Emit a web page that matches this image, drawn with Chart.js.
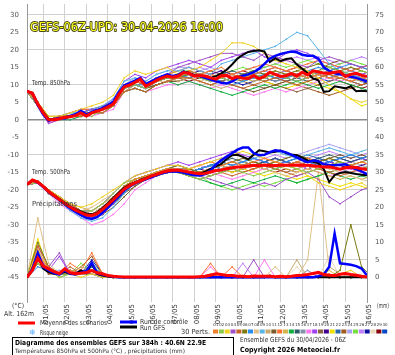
<!DOCTYPE html>
<html><head><meta charset="utf-8">
<script src="https://cdn.jsdelivr.net/npm/chart.js@4.4.0/dist/chart.umd.min.js"></script>
<style>html,body{margin:0;padding:0;background:#fff;overflow:hidden}canvas{display:block}</style>
</head><body>
<canvas id="c" width="395" height="355"></canvas>
<script>
// ---- time axes (hours since 30/04 06Z) ----
const HOURS_6H = [0,6,12,18,24,30,36,42,48,54,60,66,72,78,84,90,96,102,108,114,120,126,132,138,144,150,156,162,168,174,180,186,192,198,204,210,216,222,228,234,240,246,252,258,264,270,276,282,288,294,300,306,312,318,324,330,336,342,348,354,360,366,372,378];
const HOURS_12H = [0,12,24,36,48,60,72,84,96,108,120,132,144,156,168,180,192,204,216,228,240,252,264,276,288,300,312,324,336,348,360,372,384];
const DATE_HOURS = [18,42,66,90,114,138,162,186,210,234,258,282,306,330,354,378];
const DATE_LABELS = ['01/05','02/05','03/05','04/05','05/05','06/05','07/05','08/05','09/05','10/05','11/05','12/05','13/05','14/05','15/05','16/05'];
const LEFT_TICKS = [-45,-40,-35,-30,-25,-20,-15,-10,-5,0,5,10,15,20,25,30];
const RIGHT_TICKS = [0,5,10,15,20,25,30,35,40,45,50,55,60,65,70,75];
const PRECIP_BASE = -45;

// ---- mean / control / GFS (6-hourly) ----
const T850_MEAN = [8.2,7.6,4.5,2.0,0.0,0.0,0.3,0.7,0.9,1.2,2.0,1.1,2.0,2.5,3.0,3.7,4.5,7.2,9.4,9.9,10.7,11.6,9.6,10.4,11.3,12.0,12.5,12.2,12.5,13.5,13.3,12.5,12.7,12.5,12.0,11.6,12.6,12.7,11.8,12.3,11.9,11.8,12.6,11.8,12.4,13.6,13.0,12.4,12.6,13.2,12.5,13.6,12.8,14.0,13.7,13.3,13.3,13.6,13.8,12.4,13.0,13.3,12.7,12.4];
const T850_CTRL = [8.2,7.5,4.2,1.5,-0.3,0.2,0.5,0.4,1.1,1.6,2.6,1.5,2.3,2.8,3.4,4.2,5.2,7.8,9.8,10.5,11.2,12.0,10.2,11.0,11.8,12.4,13.0,12.5,12.8,13.8,13.2,12.6,12.5,12.0,11.5,11.0,10.6,10.4,11.0,12.0,12.6,13.0,13.6,14.6,16.0,17.5,18.3,18.8,19.2,19.5,19.3,18.6,18.3,18.3,17.5,15.0,14.0,13.3,13.0,12.7,12.3,12.0,11.5,11.0];
const T850_GFS = [8.2,7.7,4.6,2.3,0.3,0.0,0.2,0.8,1.0,1.4,2.2,1.0,2.1,2.6,3.0,3.9,4.8,7.5,9.5,10.0,11.0,11.8,9.8,10.6,11.5,12.3,12.8,12.3,12.9,13.8,13.5,12.8,12.5,12.2,12.0,12.5,13.3,14.3,15.8,17.5,18.6,19.4,19.7,19.9,19.5,16.5,17.6,16.8,17.4,17.6,15.8,14.6,13.3,11.8,11.3,8.0,8.2,9.6,9.3,9.0,9.6,8.2,8.3,8.2];
const T500_MEAN = [-18.5,-17.2,-17.8,-19.0,-20.5,-21.6,-22.8,-23.9,-24.9,-25.8,-26.5,-27.2,-27.3,-26.8,-25.6,-24.2,-22.8,-21.3,-19.8,-18.8,-18.0,-17.4,-16.8,-16.1,-15.6,-15.0,-14.6,-14.4,-14.4,-14.6,-14.9,-15.2,-15.4,-15.3,-14.9,-14.5,-14.3,-14.0,-13.7,-13.5,-13.4,-13.2,-13.0,-13.1,-12.9,-13.0,-13.1,-12.9,-13.0,-13.0,-12.9,-13.0,-13.0,-13.1,-13.3,-13.5,-13.4,-13.8,-14.1,-13.7,-13.5,-13.6,-14.0,-14.1];
const T500_CTRL = [-18.5,-17.3,-17.9,-19.2,-20.6,-21.8,-23.0,-24.2,-25.3,-26.3,-27.2,-28.0,-28.3,-27.8,-26.5,-25.0,-23.4,-21.8,-20.2,-19.0,-18.2,-17.6,-17.0,-16.4,-15.8,-15.3,-14.9,-14.7,-14.8,-15.1,-15.5,-15.8,-15.9,-15.5,-14.5,-12.8,-11.5,-10.5,-9.5,-8.5,-7.9,-7.9,-9.5,-10.1,-10.0,-9.2,-8.7,-8.9,-9.3,-10.0,-10.7,-11.5,-12.1,-11.6,-11.8,-12.7,-12.9,-13.0,-12.8,-12.7,-13.5,-14.1,-14.7,-15.5];
const T500_GFS = [-18.5,-17.2,-17.7,-18.9,-20.4,-21.5,-22.6,-23.7,-24.7,-25.5,-26.2,-26.8,-27.0,-26.5,-25.2,-23.8,-22.3,-20.8,-19.4,-18.5,-17.8,-17.2,-16.6,-16.0,-15.5,-15.0,-14.6,-14.4,-14.5,-14.7,-15.0,-15.3,-15.4,-14.8,-14.0,-13.3,-12.6,-11.2,-10.1,-10.0,-10.6,-11.3,-10.0,-8.7,-9.0,-9.3,-9.1,-8.8,-9.5,-9.9,-10.1,-10.8,-11.6,-12.0,-12.4,-14.1,-17.8,-15.8,-15.2,-14.9,-15.2,-15.5,-15.7,-15.8];
const PRCP_MEAN = [0,2.0,5.5,3.2,2.4,1.6,1.1,2.4,1.3,1.0,1.2,1.4,1.9,1.3,1.0,0.5,0.3,0.2,0.1,0.1,0.1,0.1,0.1,0.1,0.1,0.1,0.1,0.1,0.1,0.1,0.1,0.1,0.2,0.3,0.6,1.0,0.8,0.5,0.5,0.3,0.3,0.2,0.4,0.3,0.3,0.3,0.2,0.3,0.2,0.3,0.5,0.6,0.8,1.1,1.4,0.8,0.6,0.5,0.9,1.1,0.8,0.6,0.3,0.1];
const PRCP_CTRL = [0,2.5,7,3,2,1.2,0.8,2,1,0.8,1.3,1.8,4.2,1.2,0.8,0.4,0.2,0,0,0,0,0,0,0,0,0,0,0,0,0,0,0,0,0,0,0,0,0,0,0,0,0,0,0,0,0,0,0,0,0,0,0,0,0,0.3,0.8,3,12.5,4,3.8,3.6,3.2,2.5,0.5];
const PRCP_GFS = [0,2,6,2.5,1.5,1,1,1.5,1,1,2,1.2,3.9,1,0.5,0.2,0,0,0,0,0,0,0,0,0,0,0,0,0,0,0,0,0,0,0,0,0,0,0,0,0,0,0,0,0,0.5,0,0,0,0,0,0,0,0,0,0,0,0,0,0,0,0,0,0];

// ---- 30 perturbed members (12-hourly) ----
const MEMBER_COLORS = ['#f08030','#8cc850','#f0d020','#a050c8','#c86428','#7a7a10','#2a8cf0','#e0c088','#5ab4e6','#c8aa6e','#7a5a2a','#ff7030','#d2b450','#10b040','#2e5a6a','#8494a8','#ff78f0','#a040f0','#8a6440','#400090','#f0e000','#2868b0','#a05a20','#a8a0f0','#78e040','#c080ff','#1010a0','#e8d8b8','#880010','#0848c8'];
const T850_MEMBERS = [
[8,5,0,1,1,2,2,3,5,10,11,10,12,13,12,14,13,14,15,13,12,13,14,15,14,13,12,13,12,12,11,12,11],
[8,4,0,0,1,2,1,3,4,9,10,9,11,12,13,13,12,11,12,11,12,13,12,13,12,11,12,14,15,14,13,14,13],
[8,5,1,1,2,3,4,5,7,12,14,13,14,15,13,14,15,17,19,22,22,21,19,17,16,15,14,12,10,8,6,5,6],
[8,4,-1,0,1,2,3,3,5,10,11,10,12,13,15,16,17,18,19,19,18,17,19,18,17,16,15,17,18,17,16,15,16],
[8,4,0,0,1,1,2,2,4,8,9,8,10,11,12,12,11,10,11,10,9,10,11,12,11,10,11,12,13,12,11,10,11],
[8,5,0,1,1,2,2,3,4,9,11,10,11,12,12,13,12,12,13,12,13,14,13,14,13,14,15,16,15,14,15,14,13],
[8,4,0,0,1,2,3,3,5,9,10,9,11,12,13,12,13,12,11,10,11,12,13,12,12,13,14,15,14,15,16,15,14],
[8,5,1,1,1,2,2,3,4,9,10,9,11,11,12,12,11,12,13,12,13,12,13,14,13,12,13,14,13,12,11,12,13],
[8,4,0,1,2,2,3,4,6,11,12,11,13,14,14,15,14,13,16,17,18,19,20,21,23,25,24,20,16,14,13,12,11],
[8,5,0,0,1,1,2,2,4,8,10,9,11,12,11,12,11,10,9,10,11,12,11,12,13,14,13,12,13,14,15,14,13],
[8,4,0,1,1,2,2,3,4,9,10,9,10,11,11,12,13,12,11,10,9,8,9,10,11,12,13,14,16,17,16,15,14],
[8,5,1,1,2,3,3,4,5,10,11,10,12,13,14,15,14,13,12,13,14,15,16,15,14,15,16,17,16,15,14,15,16],
[8,4,0,0,1,2,2,3,4,9,11,10,12,13,12,13,12,11,12,13,12,11,12,13,12,13,12,13,14,13,12,11,12],
[8,4,0,0,0,1,2,2,4,8,9,8,10,11,10,11,10,9,8,7,8,9,10,9,10,11,10,9,10,11,10,9,8],
[8,5,0,1,1,2,3,3,5,10,11,10,11,12,13,14,13,12,13,14,13,12,11,12,13,12,11,12,13,12,11,12,13],
[8,4,0,0,1,2,2,3,4,9,10,9,11,12,12,13,12,13,12,11,12,13,12,11,12,13,14,13,12,13,14,13,12],
[8,4,-1,0,0,1,1,2,3,8,9,8,9,10,10,11,10,9,10,9,8,7,8,9,8,9,10,11,12,11,12,13,12],
[8,5,0,1,2,3,3,4,6,11,13,12,14,15,16,17,16,15,17,18,19,20,18,17,19,20,19,17,16,15,14,13,14],
[8,4,0,1,1,2,2,3,5,9,10,9,10,11,11,12,11,10,11,12,11,10,9,10,9,8,9,10,11,12,13,12,11],
[8,5,0,0,1,2,2,3,4,9,11,10,12,12,13,13,14,13,14,13,12,13,14,15,14,13,12,13,14,15,14,15,16],
[8,4,0,1,1,2,3,3,5,10,11,10,11,12,12,13,12,12,13,12,11,12,11,10,9,10,11,10,9,8,6,4,5],
[8,5,0,0,1,2,2,3,4,9,10,10,11,12,12,13,12,12,11,12,13,14,13,12,13,12,13,14,13,14,13,12,13],
[8,4,0,0,1,1,2,3,4,8,10,9,10,11,12,12,13,14,13,12,13,12,11,10,11,10,9,8,7,8,9,10,11],
[8,4,0,1,1,2,3,4,5,10,12,11,13,14,15,15,14,15,14,13,14,15,14,13,14,13,12,13,14,13,12,13,14],
[8,5,1,1,2,2,3,3,5,10,11,10,12,13,14,14,13,12,13,14,15,14,15,16,15,16,17,16,15,16,17,16,15],
[8,5,0,0,1,2,2,3,4,9,10,9,11,12,13,14,15,14,13,12,13,14,15,16,17,18,17,18,17,16,17,18,17],
[8,4,0,0,1,2,2,3,4,9,10,9,11,12,12,13,12,11,12,11,10,11,12,11,12,11,12,13,12,13,12,11,10],
[8,5,0,1,1,2,3,3,5,10,11,10,12,13,12,13,14,13,12,11,12,13,14,13,12,13,14,15,14,13,14,13,12],
[8,4,0,0,1,1,2,2,4,8,9,8,10,11,12,11,12,13,12,13,14,13,12,13,14,15,14,13,12,11,10,9,10],
[8,4,0,0,1,2,2,3,4,9,10,9,11,12,13,12,13,12,13,12,11,12,13,12,11,12,13,12,11,12,11,10,11]
];
const T500_MEMBERS = [
[-18.5,-17.5,-20,-23,-25,-27,-27,-25,-22,-19,-17,-16,-15,-14,-14,-15,-15,-14,-13,-12,-13,-12,-11,-12,-13,-12,-11,-12,-13,-14,-13,-12,-13],
[-18.5,-18,-21,-23,-25,-26,-26,-24,-21,-18,-17,-16,-15,-14,-15,-16,-17,-16,-15,-14,-15,-16,-15,-14,-13,-14,-15,-14,-13,-12,-13,-14,-13],
[-18.5,-17.5,-20,-22,-24,-25,-24,-22,-20,-18,-16,-15,-14,-13,-13,-14,-13,-12,-11,-10,-9,-10,-11,-12,-13,-14,-16,-18,-19,-20,-19,-18,-20],
[-18.5,-18,-21,-23,-25,-27,-28,-27,-24,-20,-18,-17,-16,-15,-14,-15,-16,-17,-18,-19,-20,-19,-18,-19,-17,-16,-15,-17,-22,-24,-22,-20,-19],
[-18.5,-17.5,-20,-22,-24,-26,-27,-26,-23,-20,-18,-17,-16,-15,-15,-16,-17,-16,-15,-16,-15,-14,-13,-14,-15,-16,-15,-14,-15,-16,-15,-14,-15],
[-18.5,-18,-21,-23,-25,-27,-28,-26,-23,-19,-17,-16,-15,-14,-13,-14,-15,-14,-13,-12,-11,-12,-13,-12,-11,-10,-11,-12,-11,-12,-13,-12,-11],
[-18.5,-17.5,-20,-23,-25,-26,-27,-25,-22,-19,-18,-17,-15,-14,-14,-15,-14,-13,-12,-13,-12,-11,-12,-13,-12,-11,-12,-13,-12,-11,-10,-11,-10],
[-18.5,-18,-20,-22,-24,-26,-25,-23,-21,-18,-17,-16,-15,-14,-14,-15,-16,-15,-14,-13,-14,-13,-14,-15,-16,-15,-14,-13,-14,-15,-16,-17,-18],
[-18.5,-17.5,-21,-23,-26,-28,-29,-28,-25,-21,-18,-17,-16,-15,-14,-15,-14,-13,-14,-13,-12,-11,-10,-9,-10,-11,-10,-9,-8,-9,-10,-9,-8],
[-18.5,-18,-20,-22,-25,-27,-26,-24,-22,-19,-17,-16,-15,-14,-14,-15,-15,-14,-13,-14,-15,-14,-13,-12,-13,-14,-13,-12,-13,-14,-13,-14,-15],
[-18.5,-17.5,-20,-23,-25,-27,-28,-27,-25,-22,-19,-17,-16,-15,-14,-14,-15,-16,-15,-14,-13,-12,-13,-14,-13,-12,-11,-12,-11,-10,-11,-10,-11],
[-18.5,-18,-21,-23,-24,-26,-27,-25,-22,-19,-17,-16,-15,-14,-15,-14,-13,-12,-13,-14,-13,-14,-13,-12,-13,-12,-13,-14,-13,-12,-13,-12,-13],
[-18.5,-17.5,-20,-22,-24,-25,-26,-24,-22,-19,-17,-16,-15,-14,-14,-15,-16,-15,-14,-13,-12,-13,-14,-13,-14,-15,-14,-15,-16,-17,-16,-17,-16],
[-18.5,-18,-20,-23,-25,-27,-27,-25,-23,-20,-18,-17,-16,-15,-15,-16,-17,-18,-19,-18,-17,-18,-17,-16,-17,-18,-17,-16,-15,-16,-17,-16,-17],
[-18.5,-17.5,-21,-23,-25,-27,-28,-27,-24,-21,-18,-16,-15,-14,-14,-15,-14,-13,-12,-11,-12,-13,-12,-11,-12,-13,-12,-11,-10,-11,-12,-11,-10],
[-18.5,-18,-20,-22,-24,-26,-27,-26,-23,-20,-18,-16,-15,-14,-13,-14,-15,-14,-13,-14,-13,-12,-13,-14,-13,-12,-13,-14,-13,-14,-15,-14,-13],
[-18.5,-18,-21,-24,-26,-28,-30,-29,-27,-24,-20,-18,-16,-15,-14,-15,-16,-15,-16,-17,-16,-15,-14,-13,-12,-13,-14,-15,-16,-15,-14,-15,-16],
[-18.5,-17.5,-20,-22,-24,-26,-26,-24,-21,-18,-16,-15,-14,-13,-12,-13,-12,-11,-10,-9,-10,-11,-12,-11,-12,-13,-12,-13,-12,-13,-12,-11,-12],
[-18.5,-18,-20,-23,-25,-27,-27,-26,-24,-21,-19,-17,-16,-15,-15,-16,-15,-14,-15,-14,-15,-14,-13,-14,-15,-14,-13,-14,-15,-14,-13,-14,-15],
[-18.5,-17.5,-20,-23,-25,-26,-27,-25,-22,-19,-17,-16,-15,-14,-14,-15,-14,-15,-14,-13,-14,-13,-12,-13,-12,-13,-14,-13,-12,-13,-14,-13,-12],
[-18.5,-18,-21,-23,-25,-27,-27,-25,-22,-19,-17,-16,-15,-14,-14,-15,-16,-15,-14,-15,-14,-15,-16,-15,-16,-17,-16,-17,-18,-19,-18,-19,-20],
[-18.5,-17.5,-20,-22,-24,-26,-27,-25,-22,-19,-17,-16,-15,-14,-14,-15,-14,-13,-14,-13,-12,-13,-12,-11,-12,-11,-10,-11,-12,-11,-10,-11,-10],
[-18.5,-18,-21,-23,-25,-27,-28,-26,-23,-20,-18,-17,-16,-15,-15,-16,-15,-14,-13,-12,-13,-12,-13,-12,-13,-12,-13,-12,-11,-12,-13,-14,-13],
[-18.5,-17.5,-20,-23,-24,-26,-26,-24,-21,-18,-16,-15,-14,-13,-13,-14,-13,-12,-11,-12,-11,-10,-11,-12,-11,-10,-9,-8,-7,-8,-9,-10,-11],
[-18.5,-18,-20,-22,-25,-27,-27,-26,-23,-19,-17,-16,-15,-14,-14,-15,-16,-18,-19,-20,-19,-18,-19,-18,-17,-18,-17,-16,-15,-14,-13,-14,-15],
[-18.5,-17.5,-21,-23,-25,-26,-27,-25,-22,-19,-17,-16,-15,-14,-13,-14,-13,-14,-15,-14,-13,-12,-11,-10,-11,-10,-11,-10,-9,-10,-11,-10,-9],
[-18.5,-18,-20,-23,-25,-27,-28,-26,-24,-20,-18,-17,-15,-14,-14,-15,-14,-13,-14,-13,-12,-13,-14,-13,-12,-13,-14,-13,-12,-11,-12,-11,-12],
[-18.5,-17.5,-20,-22,-24,-26,-26,-25,-22,-19,-17,-16,-15,-14,-14,-15,-16,-15,-14,-13,-14,-15,-14,-13,-14,-13,-12,-13,-14,-13,-12,-13,-14],
[-18.5,-18,-21,-23,-25,-27,-27,-25,-23,-20,-18,-16,-15,-14,-14,-15,-14,-13,-14,-15,-14,-13,-14,-15,-14,-15,-14,-13,-12,-13,-14,-15,-16],
[-18.5,-17.5,-20,-23,-25,-27,-28,-27,-24,-21,-18,-17,-16,-15,-14,-15,-14,-13,-12,-13,-12,-11,-12,-11,-12,-11,-12,-11,-12,-13,-12,-13,-14]
];
const PRCP_MEMBERS = [
[0,6,3,1,2,1,2,1,0,0,0,0,0,0,0,0,0,1,0,0,0,0,0,0,0,0,0,0,1,0,0,0,0],
[0,4,2,0,1,1,4,1,0,0,0,0,0,0,0,0,0,0,0,0,0,0,0,0,0,0,0,0,0,0,0,0,0],
[0,8,2,1,1,0,1,0,0,0,0,0,0,0,0,0,0,0,0,0,0,0,0,0,0,0,0,0,0,1,2,0,0],
[0,5,3,7,1,2,1,0,0,0,0,0,0,0,0,0,0,0,0,0,0,5,0,0,0,0,0,0,0,0,0,0,0],
[0,7,1,1,3,1,2,1,0,0,0,0,0,0,0,0,0,0,0,0,0,0,0,0,0,0,0,0,0,0,0,0,0],
[0,10,3,1,1,2,1,0,0,0,0,0,0,0,0,0,0,0,0,0,0,0,0,0,0,0,0,0,0,2,15,3,0],
[0,3,2,1,1,1,3,1,0,0,0,0,0,0,0,0,0,0,0,0,0,0,0,0,0,0,0,0,0,0,0,0,0],
[0,17,4,1,2,1,2,1,0,0,0,0,0,0,0,0,0,0,0,0,0,0,0,3,0,0,5,30,2,0,0,0,0],
[0,5,2,1,1,1,2,0,0,0,0,0,0,0,0,0,0,0,0,0,0,0,0,0,0,0,0,0,0,0,0,0,0],
[0,6,2,1,1,3,2,1,0,0,0,0,0,0,0,0,0,0,0,0,0,0,0,0,0,5,0,0,3,1,0,0,0],
[0,4,1,1,2,1,1,0,0,0,0,0,0,0,0,0,0,0,0,0,0,0,0,0,0,0,0,0,0,0,0,0,0],
[0,9,3,1,4,2,7,1,0,0,0,0,0,0,0,0,0,4,0,3,0,0,0,0,0,0,0,0,0,0,0,0,0],
[0,5,2,0,1,1,2,0,0,0,0,0,0,0,0,0,0,0,0,0,0,0,0,0,0,0,0,0,0,0,0,0,0],
[0,4,2,1,1,1,1,0,0,0,0,0,0,0,0,0,0,0,0,0,0,0,0,0,0,0,0,0,0,0,0,0,0],
[0,6,2,1,1,1,2,1,0,0,0,0,0,0,0,0,0,0,0,0,0,0,0,0,0,0,0,0,0,0,0,0,0],
[0,5,1,1,1,1,2,0,0,0,0,0,0,0,0,0,0,0,0,0,0,0,0,0,0,0,2,0,0,0,0,0,0],
[0,7,2,1,1,1,1,0,0,0,0,0,0,0,0,0,0,3,0,0,0,0,5,0,0,0,0,0,0,0,0,0,0],
[0,8,2,6,1,1,2,1,0,0,0,0,0,0,0,0,0,0,0,0,0,0,0,0,0,0,0,0,0,0,0,0,0],
[0,5,2,1,2,1,3,1,0,0,0,0,0,0,0,0,0,0,0,0,0,0,0,0,0,0,0,0,0,0,0,0,0],
[0,6,3,1,1,1,2,0,0,0,0,0,0,0,0,0,0,0,0,0,0,0,0,0,0,0,0,0,0,0,0,0,0],
[0,11,2,1,1,1,2,1,0,0,0,0,0,0,0,0,0,0,0,0,0,0,0,0,0,0,0,0,2,0,0,0,0],
[0,6,2,1,1,1,2,0,0,0,0,0,0,0,0,0,0,0,0,0,0,0,0,0,0,0,0,0,0,0,0,0,0],
[0,5,2,1,1,3,6,1,0,0,0,0,0,0,0,0,0,0,0,0,0,0,0,0,0,0,0,0,0,0,0,0,0],
[0,6,2,2,1,1,2,0,0,0,0,0,0,0,0,0,0,0,0,0,0,0,0,0,0,0,0,0,0,0,0,0,0],
[0,5,2,1,1,4,2,1,0,0,0,0,0,0,0,0,0,0,0,0,0,0,0,0,0,0,0,0,0,0,0,0,0],
[0,7,2,1,1,1,2,0,0,0,0,0,0,0,0,0,0,0,0,0,4,0,0,0,0,0,0,0,0,0,0,0,0],
[0,9,3,1,1,1,5,1,0,0,0,0,0,0,0,0,0,0,0,0,0,0,0,0,0,0,0,0,0,0,0,0,0],
[0,4,2,1,1,1,2,0,0,0,0,0,0,0,0,0,0,0,0,0,0,0,0,0,0,3,0,0,6,0,0,0,0],
[0,6,2,1,1,1,2,1,0,0,0,0,0,0,0,0,0,0,0,0,0,0,0,0,0,0,0,0,0,0,0,0,0],
[0,5,2,1,1,1,2,0,0,0,0,0,0,0,0,0,0,0,0,0,0,0,0,0,0,0,0,0,0,0,0,0,0]
];

// ---- build datasets ----
function pts(hours, vals, off) { return vals.map((v, i) => ({x: hours[i], y: v + (off || 0)})); }
const datasets = [];
function member(data, c) {
  return {data, borderColor: c, backgroundColor: c, borderWidth: 1, pointRadius: 0.9, pointBorderWidth: 0, pointBackgroundColor: c, order: 10};
}
T850_MEMBERS.forEach((m, i) => datasets.push(member(pts(HOURS_12H, m), MEMBER_COLORS[i])));
T500_MEMBERS.forEach((m, i) => datasets.push(member(pts(HOURS_12H, m), MEMBER_COLORS[i])));
PRCP_MEMBERS.forEach((m, i) => datasets.push(member(pts(HOURS_12H, m, PRECIP_BASE), MEMBER_COLORS[i])));
function main(data, c, w, o) { return {data, borderColor: c, borderWidth: w, pointRadius: 0, order: o}; }
[[T850_GFS,0],[T500_GFS,0],[PRCP_GFS,PRECIP_BASE]].forEach(([a,o]) => datasets.push(main(pts(HOURS_6H, a, o), '#000000', 2, 3)));
[[T850_CTRL,0],[T500_CTRL,0],[PRCP_CTRL,PRECIP_BASE]].forEach(([a,o]) => datasets.push(main(pts(HOURS_6H, a, o), '#0000ff', 2.5, 2)));
[[T850_MEAN,0],[T500_MEAN,0],[PRCP_MEAN,PRECIP_BASE]].forEach(([a,o]) => datasets.push(main(pts(HOURS_6H, a, o), '#ff0000', 3, 1)));

const Y_MIN = -52.05, Y_MAX = 33.1;
const FONT = '"DejaVu Sans"';

function txt(ctx, s, x, y, size, color, w, bold) {
  ctx.save();
  ctx.font = (bold ? 'bold ' : '') + size + 'px ' + FONT;
  ctx.textBaseline = 'middle'; ctx.textAlign = 'left'; ctx.fillStyle = color;
  ctx.translate(x, y);
  if (w) { const m = ctx.measureText(s).width; ctx.scale(w / m, 1); }
  ctx.fillText(s, 0, 0);
  ctx.restore();
}

const deco = {
  id: 'deco',
  afterDraw(chart) {
    const ctx = chart.ctx;
    // title
    ctx.save();
    ctx.font = '12px ' + FONT; ctx.textBaseline = 'middle';
    const tt = 'GEFS-06Z-UPD: 30-04-2026 16:00';
    const m = ctx.measureText(tt).width;
    ctx.translate(30, 27.5); ctx.scale(193 / m, 1.05);
    ctx.lineWidth = 1.8; ctx.strokeStyle = '#4a4a20'; ctx.lineJoin = 'round';
    ctx.strokeText(tt, 0, 0);
    ctx.fillStyle = '#ffff20'; ctx.fillText(tt, 0, 0);
    ctx.restore();
    // in-plot labels
    txt(ctx, 'Temp. 850hPa', 32, 83, 7, '#333', 38);
    txt(ctx, 'Temp. 500hPa', 32, 172, 7, '#333', 38);
    txt(ctx, 'Précipitations', 32, 204, 7, '#333', 45);
    // axis units
    txt(ctx, '(°C)', 12, 306, 7, '#333', 12);
    txt(ctx, 'Alt. 162m', 4, 314, 7, '#333', 30);
    txt(ctx, '(mm)', 377, 306, 7, '#333', 12);
    // legend
    ctx.fillStyle = '#ff0000'; ctx.fillRect(18, 321.5, 17, 3);
    txt(ctx, 'Moyenne des scénarios', 40, 323, 7, '#333', 67);
    ctx.fillStyle = '#0000ff'; ctx.fillRect(120, 320.5, 17, 3);
    txt(ctx, 'Run de contrôle', 140, 322, 7, '#333', 48);
    ctx.fillStyle = '#000000'; ctx.fillRect(120, 325.5, 17, 3);
    txt(ctx, 'Run GFS', 140, 328, 7, '#333', 25);
    txt(ctx, '❄', 29, 333, 8, '#55aaff');
    txt(ctx, 'Risque neige', 40, 333, 7, '#333', 28);
    txt(ctx, '30 Perts.', 181, 332, 7, '#333', 29);
    // member swatches
    const sw = 175 / MEMBER_COLORS.length;
    MEMBER_COLORS.forEach((c, i) => {
      const x = 213 + i * sw;
      ctx.fillStyle = c; ctx.fillRect(x, 329.5, sw - 0.8, 4);
      ctx.save(); ctx.font = '4px ' + FONT; ctx.fillStyle = '#333'; ctx.textAlign = 'center'; ctx.textBaseline = 'middle';
      ctx.fillText(String(i + 1).padStart(2, '0'), x + sw / 2, 325);
      ctx.restore();
    });
    // bottom box
    ctx.strokeStyle = '#000'; ctx.lineWidth = 1; ctx.strokeRect(12.5, 337.5, 221, 18);
    txt(ctx, 'Diagramme des ensembles GEFS sur 384h : 40.6N 22.9E', 15, 343, 7, '#000', 191, true);
    txt(ctx, 'Températures 850hPa et 500hPa (°C) , précipitations (mm)', 15, 351, 6, '#333', 170);
    txt(ctx, 'Ensemble GEFS du 30/04/2026 - 06Z', 240, 340, 7, '#333', 106);
    txt(ctx, 'Copyright 2026 Meteociel.fr', 240, 350, 7, '#000', 100, true);
  }
};

function zeroPad(s) { s.paddingTop = 0; s.paddingBottom = 0; s.paddingLeft = 0; s.paddingRight = 0; }

new Chart(document.getElementById('c'), {
  type: 'line',
  data: { datasets },
  plugins: [deco],
  options: {
    responsive: false, animation: false, devicePixelRatio: 1,
    layout: { padding: 0 },
    plugins: { legend: { display: false }, tooltip: { enabled: false } },
    elements: { line: { tension: 0 } },
    scales: {
      x: {
        type: 'linear', min: 0, max: 378,
        afterBuildTicks: s => { s.ticks = DATE_HOURS.map(v => ({value: v})); },
        ticks: { autoSkip: false, minRotation: 90, maxRotation: 90, padding: 2, labelOffset: 2.5, color: '#333',
          font: { size: 7, family: FONT },
          callback: v => DATE_LABELS[DATE_HOURS.indexOf(v)] },
        grid: { color: '#d0d0d0', drawTicks: false },
        border: { display: false },
        afterFit: s => { s.height = 53; zeroPad(s); }
      },
      y: {
        position: 'left', min: Y_MIN, max: Y_MAX,
        afterBuildTicks: s => { s.ticks = LEFT_TICKS.map(v => ({value: v})); },
        ticks: { padding: 8, color: '#555', font: { size: 7, family: FONT } },
        grid: {
          drawTicks: false,
          color: c => { const v = c.tick ? c.tick.value : null; if (v === 0) return '#8a8a8a'; if (v % 10 === 0 || v === -45) return '#d0d0d0'; return 'rgba(0,0,0,0)'; },
          lineWidth: c => (c.tick && c.tick.value === 0) ? 1.5 : 1
        },
        border: { display: true, color: '#999' },
        afterFit: s => { s.width = 27; zeroPad(s); }
      },
      y2: {
        position: 'right', min: Y_MIN + 45, max: Y_MAX + 45,
        afterBuildTicks: s => { s.ticks = RIGHT_TICKS.map(v => ({value: v})); },
        ticks: { padding: 8, color: '#555', font: { size: 7, family: FONT } },
        grid: { display: false, drawTicks: false },
        border: { display: true, color: '#999' },
        afterFit: s => { s.width = 28; zeroPad(s); }
      }
    }
  }
});
</script>
</body></html>
